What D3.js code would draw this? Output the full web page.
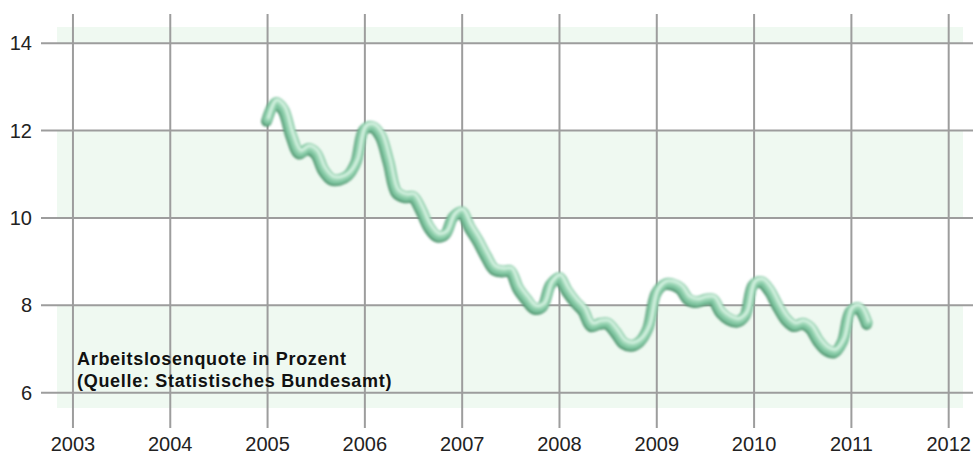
<!DOCTYPE html>
<html>
<head>
<meta charset="utf-8">
<script src="https://cdn.jsdelivr.net/npm/d3@7"></script>
<style>
  body { margin: 0; background: #fff; }
  text { font-family: "Liberation Sans", Arial, sans-serif; }
</style>
</head>
<body>
<div id="chart"></div>
<script>
// Arbeitslosenquote, monatlich ab Januar 2005
var startYear = 2005;
var quote = [
  12.25, 12.65, 12.5, 11.9, 11.5, 11.6, 11.5, 11.1, 10.9, 10.9, 11.0, 11.3,
  12.05, 12.1, 11.9, 11.3, 10.6, 10.5, 10.5, 10.2, 9.8, 9.6, 9.65, 10.05,
  10.15, 9.8, 9.5, 9.15, 8.85, 8.8, 8.8, 8.4, 8.15, 7.95, 8.0, 8.5,
  8.65, 8.35, 8.1, 7.9, 7.55, 7.6, 7.6, 7.4, 7.15, 7.1, 7.2, 7.5,
  8.3, 8.5, 8.5, 8.4, 8.15, 8.1, 8.15, 8.15, 7.85, 7.7, 7.65, 7.8,
  8.5, 8.55, 8.35, 8.0, 7.7, 7.55, 7.6, 7.5, 7.2, 7.0, 6.95, 7.2,
  7.9, 7.95, 7.6
];
var yTicks = [6, 8, 10, 12, 14];
var xTicks = [2003, 2004, 2005, 2006, 2007, 2008, 2009, 2010, 2011, 2012];
// weisse Baender (von, bis)
var whiteBands = [[12, 14], [8, 10]];
var notiz = ["Arbeitslosenquote in Prozent", "(Quelle: Statistisches Bundesamt)"];

var data = quote.map(function(v, i) {
  return { t: startYear + i / 12, v: v };
});

var width = 973;
var height = 454;

var svg = d3.select('#chart')
  .append('svg')
  .attr('width', width)
  .attr('height', height);

var x = d3.scaleLinear()
  .domain([2002.836, 2012.147])
  .range([57, 963]);

var y = d3.scaleLinear()
  .domain([5.65, 14.37])
  .range([408, 27]);

// Hintergrund
svg.append('rect')
  .attr('x', x.range()[0])
  .attr('y', y.range()[1])
  .attr('width', x.range()[1] - x.range()[0])
  .attr('height', y.range()[0] - y.range()[1])
  .attr('fill', '#eff9f1');

svg.selectAll('.band')
  .data(whiteBands)
  .enter()
  .append('rect')
  .attr('class', 'band')
  .attr('x', x.range()[0])
  .attr('width', x.range()[1] - x.range()[0])
  .attr('y', function(d) { return y(d[1]); })
  .attr('height', function(d) { return y(d[0]) - y(d[1]); })
  .attr('fill', '#fff');

// Gitter
var grid = svg.append('g');
grid.selectAll('.vline')
  .data(xTicks)
  .enter()
  .append('line')
  .attr('x1', d => x(d)).attr('x2', d => x(d))
  .attr('y1', 14).attr('y2', 428)
  .attr('stroke', '#9d9d9d')
  .attr('stroke-width', 2);

grid.selectAll('.hline')
  .data(yTicks)
  .enter()
  .append('line')
  .attr('x1', 41).attr('x2', width)
  .attr('y1', d => y(d)).attr('y2', d => y(d))
  .attr('stroke', '#9d9d9d')
  .attr('stroke-width', 2);

// Achsenbeschriftung
svg.selectAll('.ylab')
  .data(yTicks)
  .enter()
  .append('text')
  .attr('x', 32)
  .attr('y', d => y(d) + 7)
  .attr('text-anchor', 'end')
  .attr('font-size', 20)
  .attr('fill', '#222')
  .text(d => d);

svg.selectAll('.xlab')
  .data(xTicks)
  .enter()
  .append('text')
  .attr('x', d => x(d))
  .attr('y', 451)
  .attr('text-anchor', 'middle')
  .attr('font-size', 20)
  .attr('fill', '#222')
  .text(d => d);

// Linie als "Rohr"
var line = d3.line()
  .x(d => x(d.t))
  .y(d => y(d.v))
  .curve(d3.curveCatmullRom.alpha(0.5));

var defs = svg.append('defs');
defs.append('filter').attr('id', 'weich')
  .append('feGaussianBlur').attr('stdDeviation', 0.9);

var tube = svg.append('g').attr('filter', 'url(#weich)');
var schichten = [
  { w: 11, c: '#559a74', dx: -1, dy: 1.6 },
  { w: 10, c: '#7fc5a0', dx: 0, dy: 0 },
  { w: 6, c: '#a3dabb', dx: 0.6, dy: -1.3 },
  { w: 2.5, c: '#d3f1e0', dx: 1, dy: -2.2 }
];
tube.selectAll('path')
  .data(schichten)
  .enter()
  .append('path')
  .attr('d', line(data))
  .attr('transform', d => 'translate(' + d.dx + ',' + d.dy + ')')
  .attr('fill', 'none')
  .attr('stroke', d => d.c)
  .attr('stroke-width', d => d.w)
  .attr('stroke-linecap', 'round')
  .attr('stroke-linejoin', 'round');

// Notiz
svg.append('text')
  .attr('x', 77)
  .attr('font-size', 18)
  .attr('font-weight', 'bold')
  .attr('letter-spacing', 0.7)
  .attr('fill', '#111')
  .selectAll('tspan')
  .data(notiz)
  .enter()
  .append('tspan')
  .attr('x', 77)
  .attr('y', (d, i) => 365 + i * 22)
  .text(d => d);
</script>
</body>
</html>
